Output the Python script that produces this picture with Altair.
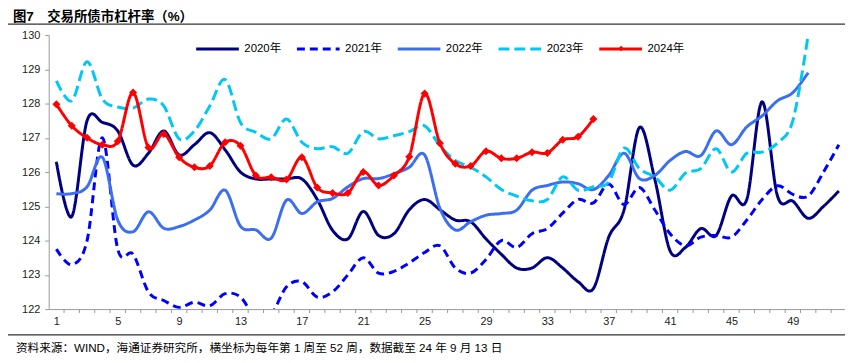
import altair as alt
import pandas as pd

# ---------------- data ----------------
years = ["2020年", "2021年", "2022年", "2023年", "2024年"]

y2020 = [126.3, 124.7, 127.5, 127.45, 127.2, 126.2, 126.55, 127.2, 126.5, 126.8,
         127.15, 126.65, 126.0, 125.8, 125.8, 125.8, 125.8, 125.2, 124.3, 124.05,
         124.85, 124.15, 124.2, 124.9, 125.2, 124.9, 124.6, 124.55, 124.05, 123.6,
         123.2, 123.2, 123.5, 123.2, 122.8, 122.6, 124.1, 124.9, 127.3, 125.8,
         123.7, 123.8, 124.35, 124.15, 125.3, 125.2, 128.05, 125.3, 125.15, 124.65,
         125.0, 125.45]
y2021 = [123.75, 123.3, 124.0, 127.0, 123.75, 123.6, 122.5, 122.25, 122.05, 122.2,
         122.1, 122.45, 122.35, 121.75, 121.85, 122.65, 122.8, 122.35, 122.5, 123.0,
         123.5, 123.05, 123.1, 123.35, 123.65, 123.85, 123.2, 123.05, 123.45, 124.0,
         123.8, 124.2, 124.35, 124.8, 125.2, 125.1, 125.65, 125.05, 125.55, 124.9,
         124.2, 123.85, 124.1, 124.15, 124.1, 124.6, 125.2, 125.6, 125.35, 125.3,
         126.0, 126.8]
y2022 = [125.37, 125.37, 125.57, 126.43, 124.6, 124.26, 124.84, 124.36, 124.41, 124.6,
         124.89, 125.47, 124.42, 124.31, 124.07, 125.18, 124.79, 125.13, 125.23, 125.57,
         125.81, 125.81, 125.95, 126.14, 126.5, 124.94, 124.31, 124.55, 124.74, 124.79,
         124.89, 125.47, 125.61, 125.71, 125.66, 125.49, 125.9, 126.55, 125.81, 125.9,
         126.34, 126.6, 126.48, 127.2, 126.8, 127.32, 127.64, 128.08, 128.32, 128.9]
y2023 = [128.66, 128.08, 129.22, 128.13, 127.9, 127.87, 128.13, 127.93, 126.97, 127.2,
         127.93, 128.7, 127.45, 127.16, 126.97, 127.55, 126.87, 126.68, 126.74, 126.55,
         127.18, 126.97, 127.06, 127.18, 127.35, 126.77, 126.34, 126.14, 125.86, 125.49,
         125.3, 125.16, 125.2, 125.86, 125.47, 125.57, 125.71, 126.7, 126.1, 125.86,
         125.47, 125.97, 126.1, 126.68, 126.0, 126.55, 126.58, 126.85, 127.5, 130.0]
y2024 = [127.98, 127.35, 127.0, 126.8, 126.9, 128.32, 126.72, 127.11, 126.43, 126.14,
         126.18, 126.87, 126.77, 125.9, 125.85, 125.78, 126.43, 125.55, 125.39, 125.39,
         126.0, 125.61, 125.9, 126.45, 128.29, 126.84, 126.24, 126.18, 126.61, 126.4,
         126.4, 126.58, 126.56, 126.94, 127.03, 127.55]

series = [y2020, y2021, y2022, y2023, y2024]
x_labels = [1, 5, 9, 13, 17, 21, 25, 29, 33, 37, 41, 45, 49]
y_ticks = [122, 123, 124, 125, 126, 127, 128, 129, 130]
week_edges = [w + 0.5 for w in range(1, 52)]

title_text = "图7　交易所债市杠杆率（%）"
footer_text = "资料来源：WIND，海通证券研究所，横坐标为每年第 1 周至 52 周，数据截至 24 年 9 月 13 日"

colors = ["#000080", "#0000FF", "#3B6EF0", "#00C8F5", "#FF0000"]
dashes = [[1, 0], [8, 5], [1, 0], [11, 5], [1, 0]]

# ---------------- tables ----------------
rows = []
for yr, vals in zip(years, series):
    for i, v in enumerate(vals):
        rows.append({"week": i + 1, "year": yr, "value": v})
df = pd.DataFrame(rows)
df24 = df[df["year"] == "2024年"].copy()
df24["mk"] = df24["year"]
edges_df = pd.DataFrame({"week": week_edges})
one = pd.DataFrame({"t": [0]})

W, H = 802, 276
LAT = "Liberation Sans, Arial, Noto Sans CJK SC"
CJK = "Liberation Sans, Noto Sans CJK SC"

xscale = alt.Scale(domain=[0.5, 52.4], nice=False, zero=False)
yscale = alt.Scale(domain=[122, 130], nice=False, zero=False)

x_axis = alt.Axis(values=x_labels, tickSize=0, labelPadding=7,
                  labelFont=LAT, labelFontSize=11, labelColor="#222",
                  domainColor="#999", domainWidth=1, grid=False,
                  labelFlush=False, labelOverlap=False)
y_axis = alt.Axis(values=y_ticks, tickSize=4, tickColor="#999",
                  labelPadding=5, labelFont=LAT, labelFontSize=11,
                  labelColor="#222", domainColor="#999", domainWidth=1,
                  grid=False, labelFlush=False, labelOverlap=False)

legend = alt.Legend(
    title=None, orient="none", legendX=147, legendY=-9, direction="horizontal",
    columns=5, symbolType="stroke", symbolSize=1849, symbolStrokeWidth=3,
    labelFontSize=11.5, labelFont=CJK, labelColor="#000", labelOffset=4,
    columnPadding=8.5, padding=0,
)

marker_legend = alt.Legend(
    title=None, orient="none", legendX=573, legendY=10, symbolType="diamond",
    symbolSize=30, symbolFillColor="#FF0000", symbolStrokeColor="#FF0000",
    symbolStrokeWidth=1, labelExpr="''", labelFontSize=1, labelOffset=0, padding=0,
)


def X(field):
    return alt.X(field, scale=xscale, title=None, axis=x_axis)


def Y(field):
    return alt.Y(field, scale=yscale, title=None, axis=y_axis)


lines = alt.Chart(df).mark_line(interpolate="cardinal", strokeWidth=3, clip=True).encode(
    x=X("week:Q"),
    y=Y("value:Q"),
    color=alt.Color("year:N", scale=alt.Scale(domain=years, range=colors), legend=legend),
    strokeDash=alt.StrokeDash("year:N", scale=alt.Scale(domain=years, range=dashes), legend=legend),
)

pts = alt.Chart(df24).mark_point(filled=True, size=65, color="#FF0000", opacity=1).encode(
    x=X("week:Q"),
    y=Y("value:Q"),
    shape=alt.Shape("mk:N", scale=alt.Scale(domain=["2024年"], range=["diamond"]),
                    legend=marker_legend),
)

xticks = alt.Chart(edges_df).mark_rule(color="#999", strokeWidth=1).encode(
    x=X("week:Q"),
    y=alt.value(H), y2=alt.value(H + 4),
)

top_line = alt.Chart(one).mark_rule(color="#333", strokeWidth=1.2).encode(
    x=alt.value(-41), x2=alt.value(W), y=alt.value(-11))
bottom_line = alt.Chart(one).mark_rule(color="#333", strokeWidth=1.2).encode(
    x=alt.value(-41), x2=alt.value(W), y=alt.value(302))

title = alt.Chart(one).mark_text(align="left", baseline="middle", font=CJK,
                                 fontSize=13.5, fontWeight="bold", color="#000").encode(
    x=alt.value(-36), y=alt.value(-18.5), text=alt.value(title_text))
footer = alt.Chart(one).mark_text(align="left", baseline="middle", font=CJK,
                                  fontSize=11.7, color="#000").encode(
    x=alt.value(-33), y=alt.value(315), text=alt.value(footer_text))

chart = alt.layer(lines, pts, xticks, top_line, bottom_line, title, footer).properties(
    width=W, height=H,
    autosize=alt.AutoSizeParams(type="none"),
    padding={"left": 41, "top": 26, "right": 0, "bottom": 45},
).configure_view(stroke=None)

chart.save("out.html", embed_options={"renderer": "svg", "actions": False})
